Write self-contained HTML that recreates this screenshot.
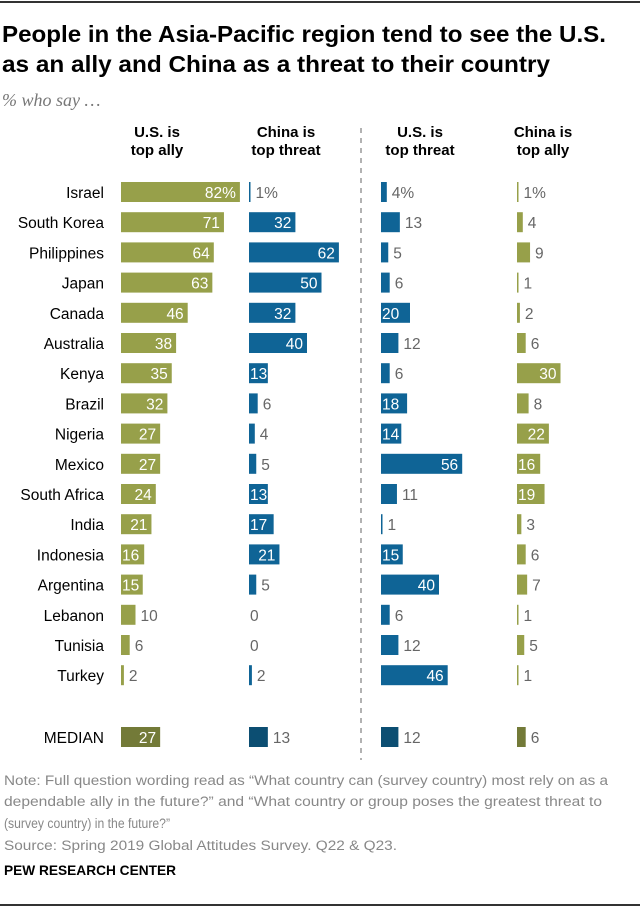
<!DOCTYPE html>
<html><head><meta charset="utf-8"><style>
html,body{margin:0;padding:0;background:#fff;}
svg{display:block;font-family:"Liberation Sans Narrow","Liberation Sans",sans-serif;}
</style></head><body>
<svg id="chart" width="640" height="908" viewBox="0 0 640 908">
<line x1="0" y1="2" x2="640" y2="2" stroke="#333" stroke-width="2"/>
<text x="2" y="42" font-size="23" font-weight="bold" fill="#000" textLength="604" lengthAdjust="spacingAndGlyphs">People in the Asia-Pacific region tend to see the U.S.</text>
<text x="2" y="72" font-size="23" font-weight="bold" fill="#000" textLength="548" lengthAdjust="spacingAndGlyphs">as an ally and China as a threat to their country</text>
<text x="2" y="106" font-size="18" font-style="italic" fill="#777" font-family="Liberation Serif, serif">% who say …</text>
<line x1="361" y1="128" x2="361" y2="760" stroke="#888" stroke-width="1.3" stroke-dasharray="5,5"/>
<g id="headers" font-size="15" font-weight="bold" text-anchor="middle" fill="#000"></g>
<g id="rows"></g>
<text x="4" y="785" font-size="13.5" fill="#888" textLength="604" lengthAdjust="spacingAndGlyphs">Note: Full question wording read as “What country can (survey country) most rely on as a</text>
<text x="4" y="806" font-size="13.5" fill="#888" textLength="598" lengthAdjust="spacingAndGlyphs">dependable ally in the future?” and “What country or group poses the greatest threat to</text>
<text x="4" y="828" font-size="13.5" fill="#888" textLength="166" lengthAdjust="spacingAndGlyphs">(survey country) in the future?”</text>
<text x="4" y="850" font-size="13.5" fill="#888" textLength="393" lengthAdjust="spacingAndGlyphs">Source: Spring 2019 Global Attitudes Survey. Q22 &amp; Q23.</text>
<text x="4" y="875" font-size="14" font-weight="bold" fill="#000" textLength="172" lengthAdjust="spacingAndGlyphs">PEW RESEARCH CENTER</text>
<line x1="0" y1="905" x2="640" y2="905" stroke="#333" stroke-width="2"/>
</svg>
<script>
const countries=["Israel","South Korea","Philippines","Japan","Canada","Australia","Kenya","Brazil","Nigeria","Mexico","South Africa","India","Indonesia","Argentina","Lebanon","Tunisia","Turkey"];
const usAlly=[82,71,64,63,46,38,35,32,27,27,24,21,16,15,10,6,2];
const chinaThreat=[1,32,62,50,32,40,13,6,4,5,13,17,21,5,0,0,2];
const usThreat=[4,13,5,6,20,12,6,18,14,56,11,1,15,40,6,12,46];
const chinaAlly=[1,4,9,1,2,6,30,8,22,16,19,3,6,7,1,5,1];
const medians=[27,13,12,6];
const headerLines=[["U.S. is","top ally"],["China is","top threat"],["U.S. is","top threat"],["China is","top ally"]];
const NS="http://www.w3.org/2000/svg";
const cols=[{x0:121,data:usAlly,c:"#97a04a",m:"#737a38",th:14,name:"us-ally"},
 {x0:249,data:chinaThreat,c:"#0f6496",m:"#0c4e72",th:13,name:"china-threat"},
 {x0:381,data:usThreat,c:"#0f6496",m:"#0c4e72",th:14,name:"us-threat"},
 {x0:517,data:chinaAlly,c:"#97a04a",m:"#737a38",th:14,name:"china-ally"}];
const centers=[157,286,420,543];
const xs=v=>v*1.45;
const yRow=i=>182+i*30.2;
const yMed=727;
const hg=document.getElementById('headers');
headerLines.forEach((h,k)=>{h.forEach((t,j)=>{const e=document.createElementNS(NS,'text');
e.setAttribute('x',centers[k]);e.setAttribute('y',137+j*18);e.textContent=t;


hg.appendChild(e);});});
const rg=document.getElementById('rows');
function bar(x0,y,v,color,inside,first,name){
 const w=Math.max(xs(v),v>0?1.5:0);
 if(v>0){const r=document.createElementNS(NS,'rect');
 r.setAttribute('x',x0);r.setAttribute('y',y);r.setAttribute('width',w);r.setAttribute('height',20);r.setAttribute('fill',color);
 
 
 rg.appendChild(r);}
 const t=document.createElementNS(NS,'text');
 t.setAttribute('font-size','15.5');t.setAttribute('y',y+16);
 t.textContent=v+(first?'%':'');
 if(inside){
   if(w<30){t.setAttribute('x',x0+1);}
   else{t.setAttribute('x',x0+w-4);t.setAttribute('text-anchor','end');}
   t.setAttribute('fill','#fff');}
 else{t.setAttribute('x',x0+w+(v>0?5:1));t.setAttribute('fill','#666');}
 
 
 rg.appendChild(t);
}
countries.forEach((c,i)=>{
 const y=yRow(i);
 const l=document.createElementNS(NS,'text');
 l.setAttribute('x',104);l.setAttribute('y',y+16);l.setAttribute('text-anchor','end');l.setAttribute('font-size','15.5');l.setAttribute('fill','#000');
 l.textContent=c;
 
 
 rg.appendChild(l);
 cols.forEach(col=>{const v=col.data[i];bar(col.x0,y,v,col.c,v>=col.th,i===0,'bar-'+col.name);});
});
const ml=document.createElementNS(NS,'text');
ml.setAttribute('x',104);ml.setAttribute('y',yMed+16);ml.setAttribute('text-anchor','end');ml.setAttribute('font-size','15.5');
ml.textContent='MEDIAN';


rg.appendChild(ml);
cols.forEach((col,k)=>{const v=medians[k];bar(col.x0,yMed,v,col.m,k===0,false,'median-bar-'+col.name);});
</script>
</body></html>
